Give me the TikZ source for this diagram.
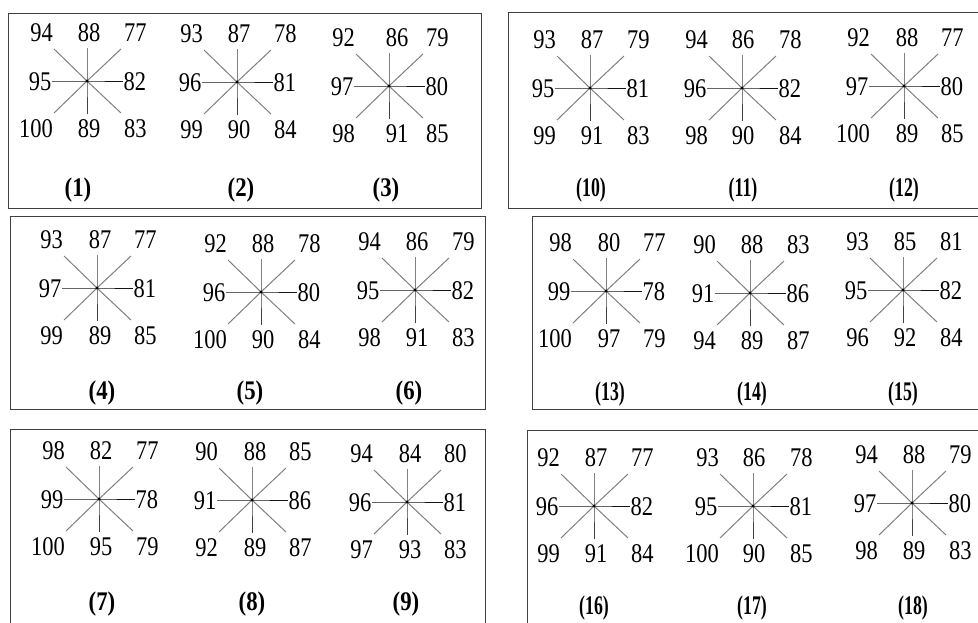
\documentclass[tikz,border=0pt]{standalone}
\usepackage{fontspec}
\usepackage{graphicx}
\setmainfont{Liberation Serif}
\usetikzlibrary{calc}
\tikzset{
  panel/.style={draw=black!75, line width=1pt},
  arm/.style={line width=1pt},
  diagarm/.style={arm, draw=black!50},
  vertarm/.style={arm, draw=black!75},
  horzarm/.style={arm, draw=black!92},
  numlbl/.style={inner sep=0pt, font=\fontsize{22.5}{24}\selectfont},
  captext/.style={inner sep=0pt, font=\bfseries\fontsize{24}{26}\selectfont},
  hubdot/.style={fill=black, draw=none},
}
\newcommand\N[1]{\scalebox{1}[1.2]{#1}}
\newcommand\CC[1]{\scalebox{0.74}[1.12]{#1}}
\newcommand\C[1]{\scalebox{0.95}[1.12]{#1}}
% name, cx, cy, vertical-label dx, capx, capy, caption
\newcommand\mkstar[7]{%
  \begin{scope}[shift={(#2,#3)}]
    \coordinate (#1c) at (0,0);
    \coordinate (#1n) at (0,-33);
    \coordinate (#1s) at (0,33);
    \coordinate (#1w) at (-35,0);
    \coordinate (#1e) at (36,0);
    \coordinate (#1nw) at (-33,-32);
    \coordinate (#1ne) at (34,-32);
    \coordinate (#1sw) at (-33,32);
    \coordinate (#1se) at (34,32);
  \end{scope}
  \draw[diagarm] (#1nw) -- (#1c) -- (#1se);
  \draw[diagarm] (#1ne) -- (#1c) -- (#1sw);
  \draw[vertarm] (#1n) -- (#1c) -- (#1s);
  \draw[horzarm] (#1w) -- (#1c) -- (#1e);
  \fill[hubdot] (#1c) circle (1.6);
  \node[captext] (#1cap) at (#5,#6) {#7};
  \def\vdx{#4}%
}
\newcommand\starlabels[9]{%
  \node[numlbl, anchor=east] (#1tl) at ($(#1c)+(-34,-48)$) {\N{#2}};
  \node[numlbl] (#1t) at ($(#1c)+(\vdx,-48)$) {\N{#3}};
  \node[numlbl, anchor=west] (#1tr) at ($(#1c)+(37,-48)$) {\N{#4}};
  \node[numlbl, anchor=east] (#1l) at ($(#1c)+(-35.5,1)$) {\N{#5}};
  \node[numlbl, anchor=west] (#1r) at ($(#1c)+(36.5,1)$) {\N{#6}};
  \node[numlbl, anchor=east] (#1bl) at ($(#1c)+(-34,48)$) {\N{#7}};
  \node[numlbl] (#1b) at ($(#1c)+(\vdx,48)$) {\N{#8}};
  \node[numlbl, anchor=west] (#1br) at ($(#1c)+(37,48)$) {\N{#9}};
}
\begin{document}
\begin{tikzpicture}[x=1pt, y=-1pt]
  \useasboundingbox (0,0) rectangle (978,622);
  \clip (0,0) rectangle (978,622);
  \fill[white] (0,0) rectangle (978,622);

  % panels
  \draw[panel] (8,13) rectangle (481,208);
  \draw[panel] (508,12) rectangle (1000,208);
  \draw[panel] (10,216) rectangle (485,409);
  \draw[panel] (532,216) rectangle (1000,409);
  \draw[panel] (10,429) rectangle (485,650);
  \draw[panel] (527,430) rectangle (1000,650);

  % panel (1)-(3)
  \mkstar{s1}{87}{81}{2}{78}{190}{\C{(1)}}
  \starlabels{s1}{94}{88}{77}{95}{82}{100}{89}{83}
  \mkstar{s2}{237}{82}{2}{241}{190}{\C{(2)}}
  \starlabels{s2}{93}{87}{78}{96}{81}{99}{90}{84}
  \mkstar{s3}{389}{86}{8}{386}{190}{\C{(3)}}
  \starlabels{s3}{92}{86}{79}{97}{80}{98}{91}{85}

  % panel (10)-(12)
  \mkstar{s10}{590}{88}{2}{591}{190}{\CC{(10)}}
  \starlabels{s10}{93}{87}{79}{95}{81}{99}{91}{83}
  \mkstar{s11}{742}{88}{1}{743}{190}{\CC{(11)}}
  \starlabels{s11}{94}{86}{78}{96}{82}{98}{90}{84}
  \mkstar{s12}{904}{86}{3}{904}{190}{\CC{(12)}}
  \starlabels{s12}{92}{88}{77}{97}{80}{100}{89}{85}

  % panel (4)-(6)
  \mkstar{s4}{97}{288}{3}{102}{393}{\C{(4)}}
  \starlabels{s4}{93}{87}{77}{97}{81}{99}{89}{85}
  \mkstar{s5}{261}{292}{2}{250}{393}{\C{(5)}}
  \starlabels{s5}{92}{88}{78}{96}{80}{100}{90}{84}
  \mkstar{s6}{415}{290}{2}{409}{393}{\C{(6)}}
  \starlabels{s6}{94}{86}{79}{95}{82}{98}{91}{83}

  % panel (13)-(15)
  \mkstar{s13}{606}{291}{3}{610}{394}{\CC{(13)}}
  \starlabels{s13}{98}{80}{77}{99}{78}{100}{97}{79}
  \mkstar{s14}{750}{293}{2}{752}{394}{\CC{(14)}}
  \starlabels{s14}{90}{88}{83}{91}{86}{94}{89}{87}
  \mkstar{s15}{903}{290}{2}{903}{394}{\CC{(15)}}
  \starlabels{s15}{93}{85}{81}{95}{82}{96}{92}{84}

  % panel (7)-(9)
  \mkstar{s7}{99}{499}{2}{102}{604}{\C{(7)}}
  \starlabels{s7}{98}{82}{77}{99}{78}{100}{95}{79}
  \mkstar{s8}{252}{500}{3}{252}{604}{\C{(8)}}
  \starlabels{s8}{90}{88}{85}{91}{86}{92}{89}{87}
  \mkstar{s9}{407}{502}{3}{406}{604}{\C{(9)}}
  \starlabels{s9}{94}{84}{80}{96}{81}{97}{93}{83}

  % panel (16)-(18)
  \mkstar{s16}{594}{506}{2}{594}{608}{\CC{(16)}}
  \starlabels{s16}{92}{87}{77}{96}{82}{99}{91}{84}
  \mkstar{s17}{753}{506}{1}{752}{608}{\CC{(17)}}
  \starlabels{s17}{93}{86}{78}{95}{81}{100}{90}{85}
  \mkstar{s18}{912}{503}{2}{913}{608}{\CC{(18)}}
  \starlabels{s18}{94}{88}{79}{97}{80}{98}{89}{83}
\end{tikzpicture}
\end{document}
